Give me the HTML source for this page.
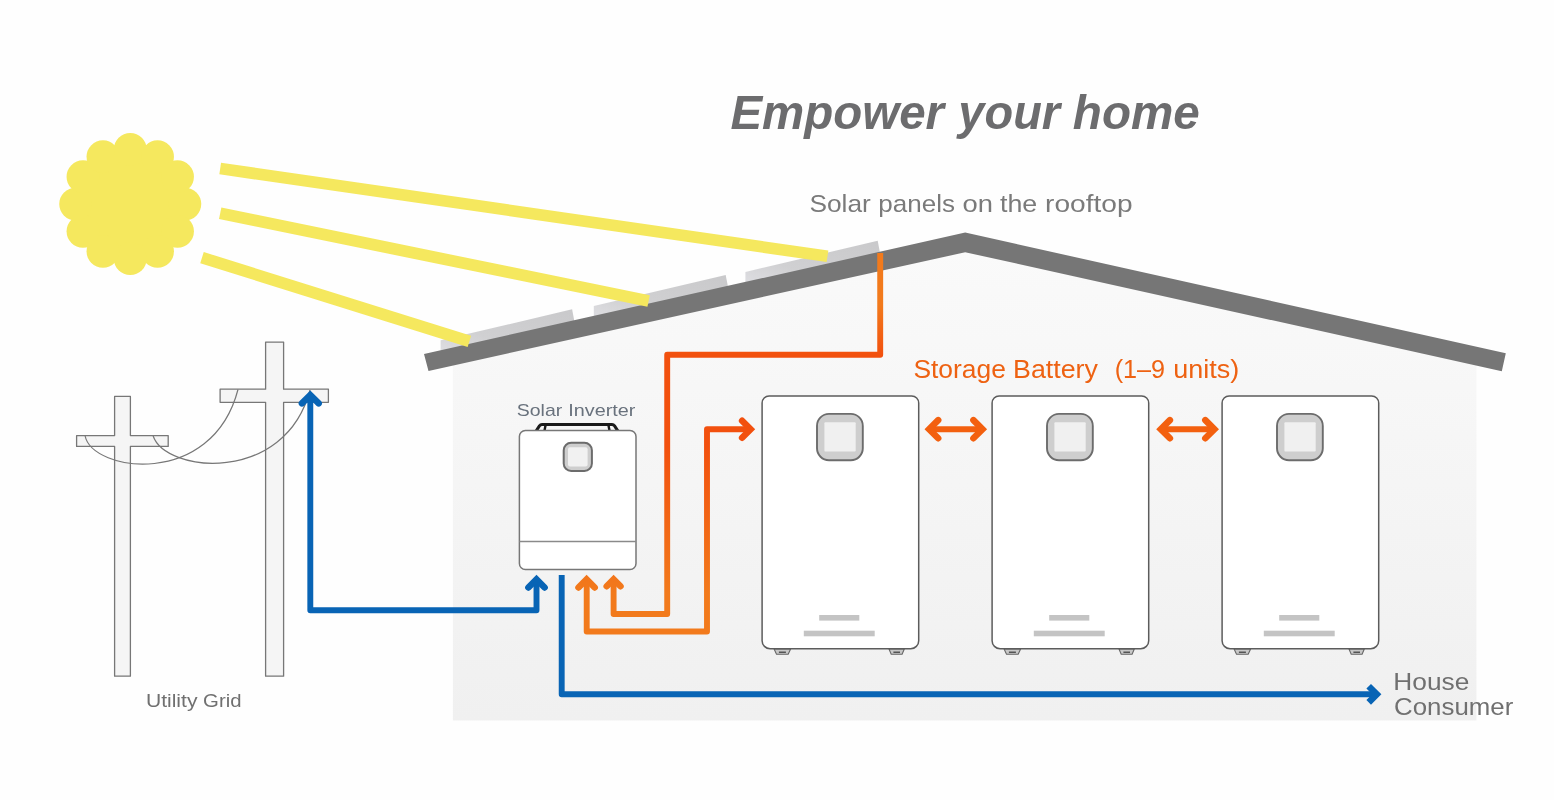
<!DOCTYPE html>
<html lang="en">
<head>
<meta charset="utf-8">
<title>Empower your home</title>
<style>
html,body{margin:0;padding:0;background:#fefefe;}
body{width:1554px;height:800px;overflow:hidden;font-family:"Liberation Sans",sans-serif;}
svg{display:block;}
</style>
</head>
<body>
<svg width="1554" height="800" viewBox="0 0 1554 800">
<defs>
<linearGradient id="og" gradientUnits="userSpaceOnUse" x1="0" y1="250" x2="0" y2="640"><stop offset="0" stop-color="#f27a1c"/><stop offset="0.14" stop-color="#f27a1c"/><stop offset="0.27" stop-color="#f2500e"/><stop offset="0.5" stop-color="#f2500e"/><stop offset="0.88" stop-color="#f27a1c"/><stop offset="1" stop-color="#f27a1c"/></linearGradient>
<linearGradient id="pg" x1="0" y1="1" x2="1" y2="0"><stop offset="0" stop-color="#dedee2"/><stop offset="0.35" stop-color="#d0d0d2"/><stop offset="1" stop-color="#c9c9cb"/></linearGradient>
<linearGradient id="hg" gradientUnits="userSpaceOnUse" x1="0" y1="245" x2="0" y2="720"><stop offset="0" stop-color="#fafafa"/><stop offset="1" stop-color="#f0f0f0"/></linearGradient>
<filter id="soft" x="-2%" y="-2%" width="104%" height="104%" color-interpolation-filters="sRGB"><feGaussianBlur stdDeviation="0.45"/></filter>
</defs>
<rect width="1554" height="800" fill="#fefefe"/>
<g filter="url(#soft)">
<polygon points="452.9,720.6 452.9,362 965.2,245 1476.4,362 1476.4,720.6" fill="url(#hg)"/>
<g fill="#f5e85e"><circle cx="130.25" cy="204.05" r="59.6"/>
<circle cx="184.85" cy="204.05" r="16.4"/>
<circle cx="177.53" cy="231.35" r="16.4"/>
<circle cx="157.55" cy="251.33" r="16.4"/>
<circle cx="130.25" cy="258.65" r="16.4"/>
<circle cx="102.95" cy="251.33" r="16.4"/>
<circle cx="82.97" cy="231.35" r="16.4"/>
<circle cx="75.65" cy="204.05" r="16.4"/>
<circle cx="82.97" cy="176.75" r="16.4"/>
<circle cx="102.95" cy="156.77" r="16.4"/>
<circle cx="130.25" cy="149.45" r="16.4"/>
<circle cx="157.55" cy="156.77" r="16.4"/>
<circle cx="177.53" cy="176.75" r="16.4"/>
</g>
<polygon points="440.6,352.3 440.6,340.3 572.1,309.3 574.6,322.4" fill="url(#pg)"/>
<polygon points="593.8,317.9 593.8,305.9 725.7,274.9 728.2,288.0" fill="url(#pg)"/>
<polygon points="745.4,283.9 745.4,271.9 877.7,240.8 880.2,253.9" fill="url(#pg)"/>
<polygon points="424,354 965.2,232.6 1505.8,353.2 1501.8,371.2 965.2,252.2 428.5,371" fill="#767676"/>
<g stroke="#f5e85e" stroke-width="11.7" fill="none">
<line x1="220.2" y1="168.5" x2="827.5" y2="256.3"/>
<line x1="220.2" y1="213.3" x2="648.6" y2="301"/>
<line x1="202" y1="257.7" x2="469.4" y2="341.3"/>
</g>
<g fill="#f5f5f5" stroke="#777777" stroke-width="1.3" stroke-linejoin="round">
<path d="M114.6,396.4 H130.4 V435.6 H168.2 V446.4 H130.4 V676.2 H114.6 V446.4 H76.6 V435.6 H114.6 Z"/>
<path d="M265.6,342.1 H283.6 V389.2 H328.4 V402.3 H283.6 V676.2 H265.6 V402.3 H220.1 V389.2 H265.6 Z"/>
</g>
<g fill="none" stroke="#777777" stroke-width="1.2">
<path d="M85,435.5 C92,472 212,489 238,389.5"/>
<path d="M153,435.5 C165,473 285,485 310,390"/>
</g>
<g fill="none" stroke="#0864b5" stroke-width="5.9" stroke-linejoin="round">
<path d="M310.3,396 V610.2 H536.5 V580"/>
<path d="M561.7,575 V694.3 H1375"/>
<path d="M301.90,403.40 L310.30,395.00 L318.70,403.40" stroke-width="6.5" stroke-linecap="round" stroke-linejoin="miter" />
<path d="M528.40,587.50 L536.50,579.40 L544.60,587.50" stroke-width="6.5" stroke-linecap="round" stroke-linejoin="miter" />
<path d="M1368.70,686.20 L1376.80,694.30 L1368.70,702.40" stroke-width="6.5" stroke-linecap="butt" stroke-linejoin="miter" />
</g>
<g fill="none" stroke="url(#og)" stroke-width="5.9" stroke-linejoin="round">
<path d="M880.2,253 V354.7 H667.2 V614 H613.6 V580"/>
<path d="M586.7,580 V631.5 H707 V429.2 H749"/>
<path d="M578.50,587.50 L586.60,579.40 L594.70,587.50" stroke-width="6.5" stroke-linecap="round" stroke-linejoin="miter" />
<path d="M606.70,586.30 L613.60,579.40 L620.50,586.30" stroke-width="6.5" stroke-linecap="round" stroke-linejoin="miter" />
<path d="M742.10,420.70 L750.60,429.20 L742.10,437.70" stroke-width="6.5" stroke-linecap="round" stroke-linejoin="miter" />
</g>
<g fill="none" stroke="#f3600f" stroke-linejoin="miter">
<path d="M929.7,429.2 H981.9" stroke-width="5.9"/>
<path d="M938.20,420.10 L929.10,429.20 L938.20,438.30" stroke-width="6.5" stroke-linecap="round" stroke-linejoin="miter" />
<path d="M973.40,420.10 L982.50,429.20 L973.40,438.30" stroke-width="6.5" stroke-linecap="round" stroke-linejoin="miter" />
<path d="M1161.4,429.2 H1213.8" stroke-width="5.9"/>
<path d="M1169.90,420.10 L1160.80,429.20 L1169.90,438.30" stroke-width="6.5" stroke-linecap="round" stroke-linejoin="miter" />
<path d="M1205.30,420.10 L1214.40,429.20 L1205.30,438.30" stroke-width="6.5" stroke-linecap="round" stroke-linejoin="miter" />
</g>
<g stroke="#777777" stroke-width="1.5">
<path d="M536.2,430.8 L539.6,425.7 Q540.4,424.4 542,424.4 H612 Q613.6,424.4 614.4,425.7 L617.8,430.8" fill="none" stroke="#1a1a1a" stroke-width="3" stroke-linejoin="round"/>
<path d="M544.5,430.4 L545.5,425.5 M609.5,430.4 L608.5,425.5" fill="none" stroke="#1a1a1a" stroke-width="2.4"/>
<rect x="519.4" y="430.4" width="116.6" height="139.2" rx="6" fill="#ffffff"/>
<path d="M519.4,541.4 H636" fill="none" stroke="#8a8a8a"/>
<rect x="563.7" y="442.8" width="28.2" height="28.2" rx="7.5" fill="#cecece" stroke="#6c6c6c" stroke-width="2"/>
<rect x="568" y="447.2" width="19.6" height="19.4" rx="2" fill="#f1f1f1" stroke="none"/>
</g>
<g transform="translate(761.4,0)" stroke="#5c5c5c" stroke-width="1.5">
<path d="M12.7,649 l2.4,5.3 h11.7 l2.4,-5.3 z M127.6,649 l2.2,5.3 h10.9 l2.2,-5.3 z" fill="#c8c8c8" stroke="#666" stroke-width="1.1"/>
<path d="M17.5,652.2 h7 M132,652.2 h6.6" fill="none" stroke="#555" stroke-width="1.6"/>
<path d="M7.7,395.9 H150.3 a7,7 0 0 1 7,7 V640.7 a8,8 0 0 1 -8,8 H8.7 a8,8 0 0 1 -8,-8 V402.9 a7,7 0 0 1 7,-7 Z" fill="#ffffff"/>
<rect x="55.6" y="413.9" width="45.8" height="46.4" rx="12" fill="#cecece" stroke="#6c6c6c" stroke-width="1.9"/>
<rect x="63" y="422.2" width="31.3" height="29.2" rx="1" fill="#f0f0f0" stroke="none"/>
<rect x="57.8" y="615" width="40.1" height="5.6" fill="#c4c4c4" stroke="none"/>
<rect x="42.4" y="630.7" width="70.9" height="5.6" fill="#c4c4c4" stroke="none"/>
</g>
<g transform="translate(991.4,0)" stroke="#5c5c5c" stroke-width="1.5">
<path d="M12.7,649 l2.4,5.3 h11.7 l2.4,-5.3 z M127.6,649 l2.2,5.3 h10.9 l2.2,-5.3 z" fill="#c8c8c8" stroke="#666" stroke-width="1.1"/>
<path d="M17.5,652.2 h7 M132,652.2 h6.6" fill="none" stroke="#555" stroke-width="1.6"/>
<path d="M7.7,395.9 H150.3 a7,7 0 0 1 7,7 V640.7 a8,8 0 0 1 -8,8 H8.7 a8,8 0 0 1 -8,-8 V402.9 a7,7 0 0 1 7,-7 Z" fill="#ffffff"/>
<rect x="55.6" y="413.9" width="45.8" height="46.4" rx="12" fill="#cecece" stroke="#6c6c6c" stroke-width="1.9"/>
<rect x="63" y="422.2" width="31.3" height="29.2" rx="1" fill="#f0f0f0" stroke="none"/>
<rect x="57.8" y="615" width="40.1" height="5.6" fill="#c4c4c4" stroke="none"/>
<rect x="42.4" y="630.7" width="70.9" height="5.6" fill="#c4c4c4" stroke="none"/>
</g>
<g transform="translate(1221.4,0)" stroke="#5c5c5c" stroke-width="1.5">
<path d="M12.7,649 l2.4,5.3 h11.7 l2.4,-5.3 z M127.6,649 l2.2,5.3 h10.9 l2.2,-5.3 z" fill="#c8c8c8" stroke="#666" stroke-width="1.1"/>
<path d="M17.5,652.2 h7 M132,652.2 h6.6" fill="none" stroke="#555" stroke-width="1.6"/>
<path d="M7.7,395.9 H150.3 a7,7 0 0 1 7,7 V640.7 a8,8 0 0 1 -8,8 H8.7 a8,8 0 0 1 -8,-8 V402.9 a7,7 0 0 1 7,-7 Z" fill="#ffffff"/>
<rect x="55.6" y="413.9" width="45.8" height="46.4" rx="12" fill="#cecece" stroke="#6c6c6c" stroke-width="1.9"/>
<rect x="63" y="422.2" width="31.3" height="29.2" rx="1" fill="#f0f0f0" stroke="none"/>
<rect x="57.8" y="615" width="40.1" height="5.6" fill="#c4c4c4" stroke="none"/>
<rect x="42.4" y="630.7" width="70.9" height="5.6" fill="#c4c4c4" stroke="none"/>
</g>
<text y="128.8" font-family="'Liberation Sans', sans-serif" font-size="48.5" fill="#6c6c6e" font-weight="700" font-style="italic"><tspan x="730.43" textLength="213.66" lengthAdjust="spacingAndGlyphs">Empower</tspan> <tspan x="958.35" textLength="101.76" lengthAdjust="spacingAndGlyphs">your</tspan> <tspan x="1072.82" textLength="127.02" lengthAdjust="spacingAndGlyphs">home</tspan></text>
<text y="211.8" font-family="'Liberation Sans', sans-serif" font-size="24.6" fill="#7a7a7a" ><tspan x="809.45" textLength="61.39" lengthAdjust="spacingAndGlyphs">Solar</tspan> <tspan x="878.34" textLength="76.74" lengthAdjust="spacingAndGlyphs">panels</tspan> <tspan x="962.61" textLength="30.43" lengthAdjust="spacingAndGlyphs">on</tspan> <tspan x="999.93" textLength="37.34" lengthAdjust="spacingAndGlyphs">the</tspan> <tspan x="1045.12" textLength="87.40" lengthAdjust="spacingAndGlyphs">rooftop</tspan></text>
<text y="377.9" font-family="'Liberation Sans', sans-serif" font-size="25" fill="#ee6212" ><tspan x="913.44" textLength="92.41" lengthAdjust="spacingAndGlyphs">Storage</tspan> <tspan x="1013.06" textLength="84.84" lengthAdjust="spacingAndGlyphs">Battery</tspan> <tspan x="1114.69" textLength="50.37" lengthAdjust="spacingAndGlyphs">(1–9</tspan> <tspan x="1173.28" textLength="65.95" lengthAdjust="spacingAndGlyphs">units)</tspan></text>
<text y="415.7" font-family="'Liberation Sans', sans-serif" font-size="17" fill="#69727d" ><tspan x="516.82" textLength="45.43" lengthAdjust="spacingAndGlyphs">Solar</tspan> <tspan x="568.22" textLength="67.14" lengthAdjust="spacingAndGlyphs">Inverter</tspan></text>
<text y="707.4" font-family="'Liberation Sans', sans-serif" font-size="17.6" fill="#707070" ><tspan x="145.92" textLength="51.58" lengthAdjust="spacingAndGlyphs">Utility</tspan> <tspan x="203.08" textLength="38.46" lengthAdjust="spacingAndGlyphs">Grid</tspan></text>
<text y="689.6" font-family="'Liberation Sans', sans-serif" font-size="24" fill="#707070" ><tspan x="1393.30" textLength="75.95" lengthAdjust="spacingAndGlyphs">House</tspan></text>
<text y="715.1" font-family="'Liberation Sans', sans-serif" font-size="24.4" fill="#707070" ><tspan x="1394.11" textLength="119.13" lengthAdjust="spacingAndGlyphs">Consumer</tspan></text>
</g>
</svg>
</body>
</html>
